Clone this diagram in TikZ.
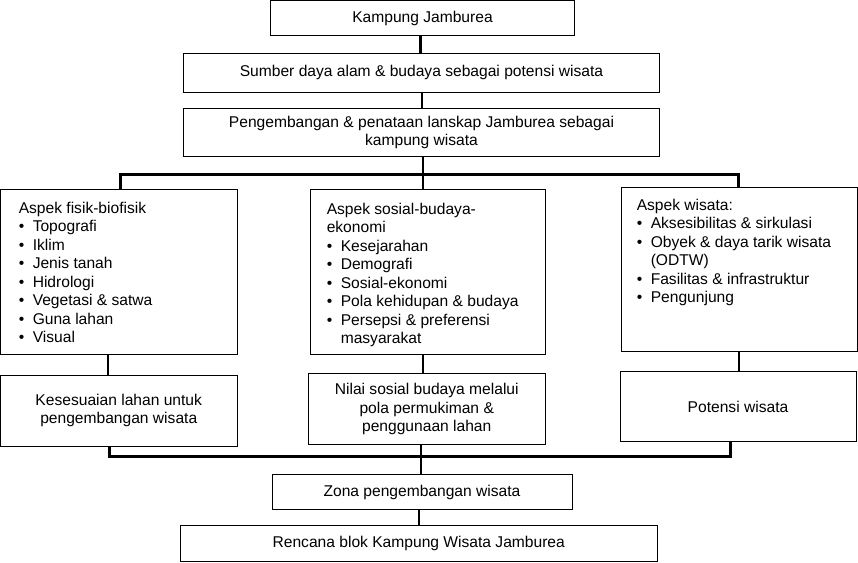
\documentclass[tikz,border=0pt]{standalone}
\usepackage{fontspec}
\setmainfont{Liberation Sans}
\newcommand\fsc{\fontsize{11.7pt}{13.6pt}\selectfont}
\newcommand\fsl{\fontsize{11.7pt}{13.9pt}\selectfont}
\newcommand\bl[1]{\makebox[10.5pt][l]{\textbullet}#1}
\newcommand\hngind{\hspace*{10.5pt}}
\begin{document}
\begin{tikzpicture}[x=0.75pt,y=-0.75pt,
  box/.style n args={2}{draw, line width=0.75pt, inner sep=0pt, align=center, font=\fsc,
     minimum width={#1*0.75pt}, minimum height={#2*0.75pt}},
  lst/.style={inner sep=0pt, align=left, font=\fsl, anchor=north west},
  conn/.style={line width=1.5pt},
  thinconn/.style={line width=1.1pt},
  bus/.style={line width=2.25pt}]
\useasboundingbox (0,0) rectangle (858,562);
% boxes
\node[box={304}{35}] (b1) at (422.5,18) {Kampung Jamburea};
\node[box={476}{38.5}] (b2) at (421.5,72.75) {Sumber daya alam \& budaya sebagai potensi wisata};
\node[box={476}{48.5}] (b3) at (421.5,132.25) {Pengembangan \& penataan lanskap Jamburea sebagai\\ kampung wisata};
\node[box={236.5}{164.5}] (L1) at (118.75,271.75) {};
\node[box={234.5}{164.5}] (M1) at (427.75,271.75) {};
\node[box={236}{164}] (R1) at (739,269.5) {};
\node[box={236.5}{71}] (L2) at (118.75,410.5) {Kesesuaian lahan untuk\\ pengembangan wisata};
\node[box={236.5}{71}] (M2) at (426.75,409) {Nilai sosial budaya melalui\\ pola permukiman \&\\ penggunaan lahan};
\node[box={236}{70}] (R2) at (738,406.5) {Potensi wisata};
\node[box={300}{35}] (zona) at (422,492) {Zona pengembangan wisata};
\node[box={476.5}{36}] (ren) at (418.75,543.5) {Rencana blok Kampung Wisata Jamburea};
% list texts
\node[lst] (L1t) at (18.5,200) {\strut Aspek fisik-biofisik\\ \bl{Topografi}\\ \bl{Iklim}\\ \bl{Jenis tanah}\\ \bl{Hidrologi}\\ \bl{Vegetasi \& satwa}\\ \bl{Guna lahan}\\ \bl{Visual}};
\node[lst] (M1t) at (326.5,201) {\strut Aspek sosial-budaya-\\ ekonomi\\ \bl{Kesejarahan}\\ \bl{Demografi}\\ \bl{Sosial-ekonomi}\\ \bl{Pola kehidupan \& budaya}\\ \bl{Persepsi \& preferensi}\\ \hngind masyarakat};
\node[lst] (R1t) at (636.5,197) {\strut Aspek wisata:\\ \bl{Aksesibilitas \& sirkulasi}\\ \bl{Obyek \& daya tarik wisata}\\ \hngind (ODTW)\\ \bl{Fasilitas \& infrastruktur}\\ \bl{Pengunjung}};
% coordinates
\coordinate (x1) at (420,0);
\coordinate (x2) at (422,0);
\coordinate (x3) at (423,0);
\coordinate (tL) at (120,174);
\coordinate (tR) at (738,174);
\coordinate (xa) at (108,0);
\coordinate (xb) at (423,0);
\coordinate (xc) at (739,0);
\coordinate (bL) at (109,456);
\coordinate (bR) at (730,456);
\coordinate (xm) at (421,0);
\coordinate (xz) at (419,0);
% connectors
\draw[bus] (b1.south -| x1) -- (b2.north -| x1);
\draw[thinconn] (b2.south -| x2) -- (b3.north -| x2);
\draw[conn] (b3.south -| x3) -- (M1.north -| x3);
\draw[bus] (L1.north -| tL) -- (tL) -- (tR) -- (R1.north -| tR);
\draw[conn] (L1.south -| xa) -- (L2.north -| xa);
\draw[conn] (M1.south -| xb) -- (M2.north -| xb);
\draw[conn] (R1.south -| xc) -- (R2.north -| xc);
\draw[bus] (L2.south -| bL) -- (bL) -- (bR) -- (R2.south -| bR);
\draw[thinconn] (M2.south -| xm) -- (zona.north -| xm);
\draw[conn] (zona.south -| xz) -- (ren.north -| xz);
\end{tikzpicture}
\end{document}
